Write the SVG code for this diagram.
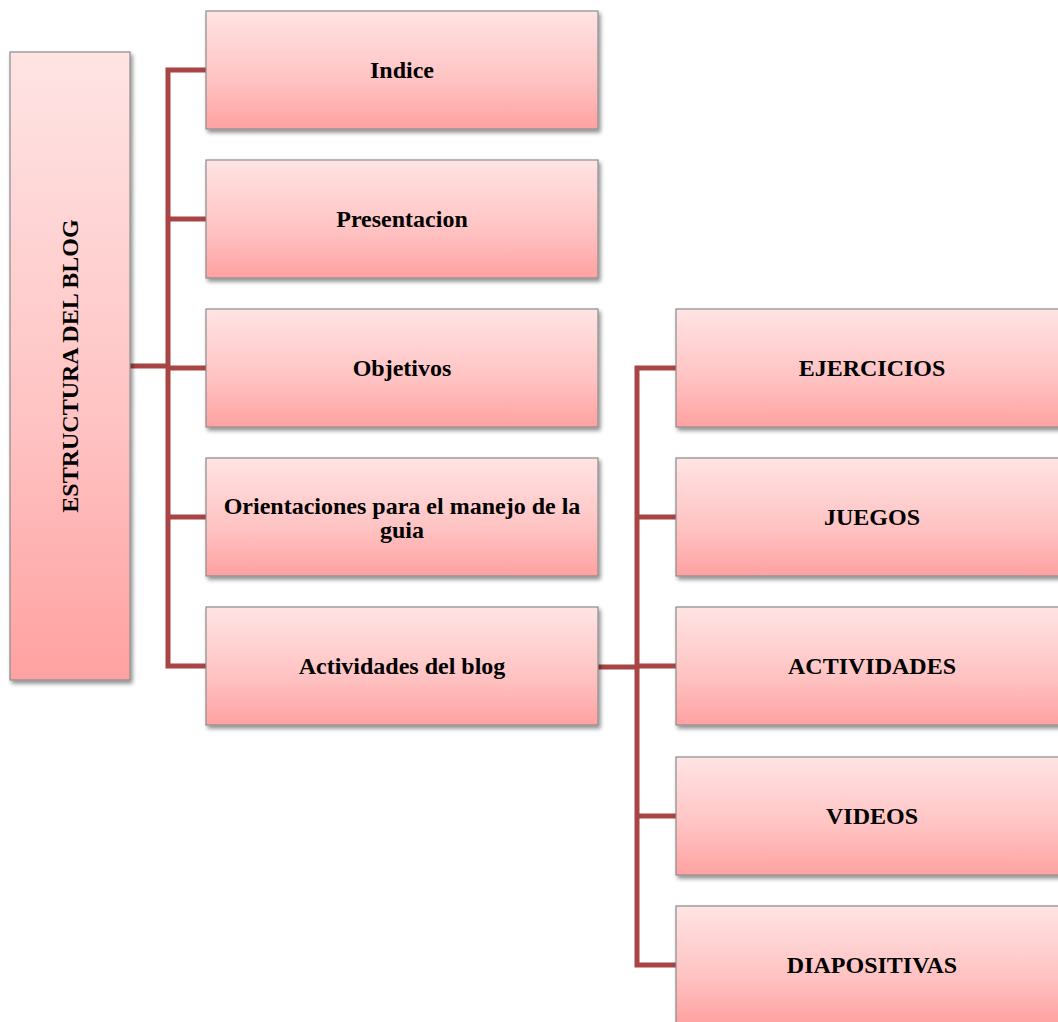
<svg xmlns="http://www.w3.org/2000/svg" width="1058" height="1022" viewBox="0 0 1058 1022">
  <defs>
    <linearGradient id="pink" x1="0" y1="0" x2="0" y2="1">
      <stop offset="0" stop-color="#FFE4E4"/>
      <stop offset="0.6" stop-color="#FFC2C2"/>
      <stop offset="1" stop-color="#FFA1A1"/>
    </linearGradient>
    <linearGradient id="pinkV" x1="0" y1="0" x2="0" y2="1">
      <stop offset="0" stop-color="#FFE4E4"/>
      <stop offset="0.6" stop-color="#FFC2C2"/>
      <stop offset="1" stop-color="#FFA1A1"/>
    </linearGradient>
    <filter id="shadow" x="-10%" y="-10%" width="125%" height="130%">
      <feGaussianBlur in="SourceAlpha" stdDeviation="2"/>
      <feOffset dx="2" dy="3" result="b"/>
      <feComponentTransfer><feFuncA type="linear" slope="0.45"/></feComponentTransfer>
      <feMerge><feMergeNode/><feMergeNode in="SourceGraphic"/></feMerge>
    </filter>
  </defs>
  <style>
    .box { fill: url(#pink); stroke: #8C8C8C; stroke-width: 1.2; filter: url(#shadow); }
    .lbl { font-family: "Liberation Serif", "Times New Roman", serif; font-weight: bold; font-size: 24px; fill: #000; text-anchor: middle; }
    .conn { stroke: #A94444; stroke-width: 5; fill: none; stroke-linejoin: miter; }
  </style>
  <rect width="1058" height="1022" fill="#FFFFFF"/>

  <g id="connectors">
    <path class="conn" d="M130,366 H168"/>
    <path class="conn" d="M206,70 H168 V666 H206"/>
    <path class="conn" d="M168,219 H206"/>
    <path class="conn" d="M168,368 H206"/>
    <path class="conn" d="M168,517 H206"/>
    <path class="conn" d="M598,667 H637"/>
    <path class="conn" d="M676,368 H637 V965 H676"/>
    <path class="conn" d="M637,517 H676"/>
    <path class="conn" d="M637,666 H676"/>
    <path class="conn" d="M637,816 H676"/>
  </g>

  <g id="root">
    <rect class="box" x="10" y="52" width="120" height="628"/>
    <text class="lbl" transform="translate(78,366) rotate(-90)" x="0" y="0">ESTRUCTURA DEL BLOG</text>
  </g>

  <g id="indice">
    <rect class="box" x="206" y="11" width="392" height="118"/>
    <text class="lbl" x="402" y="78">Indice</text>
  </g>
  <g id="presentacion">
    <rect class="box" x="206" y="160" width="392" height="118"/>
    <text class="lbl" x="402" y="227">Presentacion</text>
  </g>
  <g id="objetivos">
    <rect class="box" x="206" y="309" width="392" height="118"/>
    <text class="lbl" x="402" y="376">Objetivos</text>
  </g>
  <g id="orientaciones">
    <rect class="box" x="206" y="458" width="392" height="118"/>
    <text class="lbl" x="402" y="514">Orientaciones para el manejo de la</text>
    <text class="lbl" x="402" y="538">guia</text>
  </g>
  <g id="actividades-blog">
    <rect class="box" x="206" y="607" width="392" height="118"/>
    <text class="lbl" x="402" y="674">Actividades del blog</text>
  </g>

  <g id="ejercicios">
    <rect class="box" x="676" y="309" width="392" height="118"/>
    <text class="lbl" x="872" y="376">EJERCICIOS</text>
  </g>
  <g id="juegos">
    <rect class="box" x="676" y="458" width="392" height="118"/>
    <text class="lbl" x="872" y="525">JUEGOS</text>
  </g>
  <g id="actividades">
    <rect class="box" x="676" y="607" width="392" height="118"/>
    <text class="lbl" x="872" y="674">ACTIVIDADES</text>
  </g>
  <g id="videos">
    <rect class="box" x="676" y="757" width="392" height="118"/>
    <text class="lbl" x="872" y="824">VIDEOS</text>
  </g>
  <g id="diapositivas">
    <rect class="box" x="676" y="906" width="392" height="118"/>
    <text class="lbl" x="872" y="973">DIAPOSITIVAS</text>
  </g>
</svg>
